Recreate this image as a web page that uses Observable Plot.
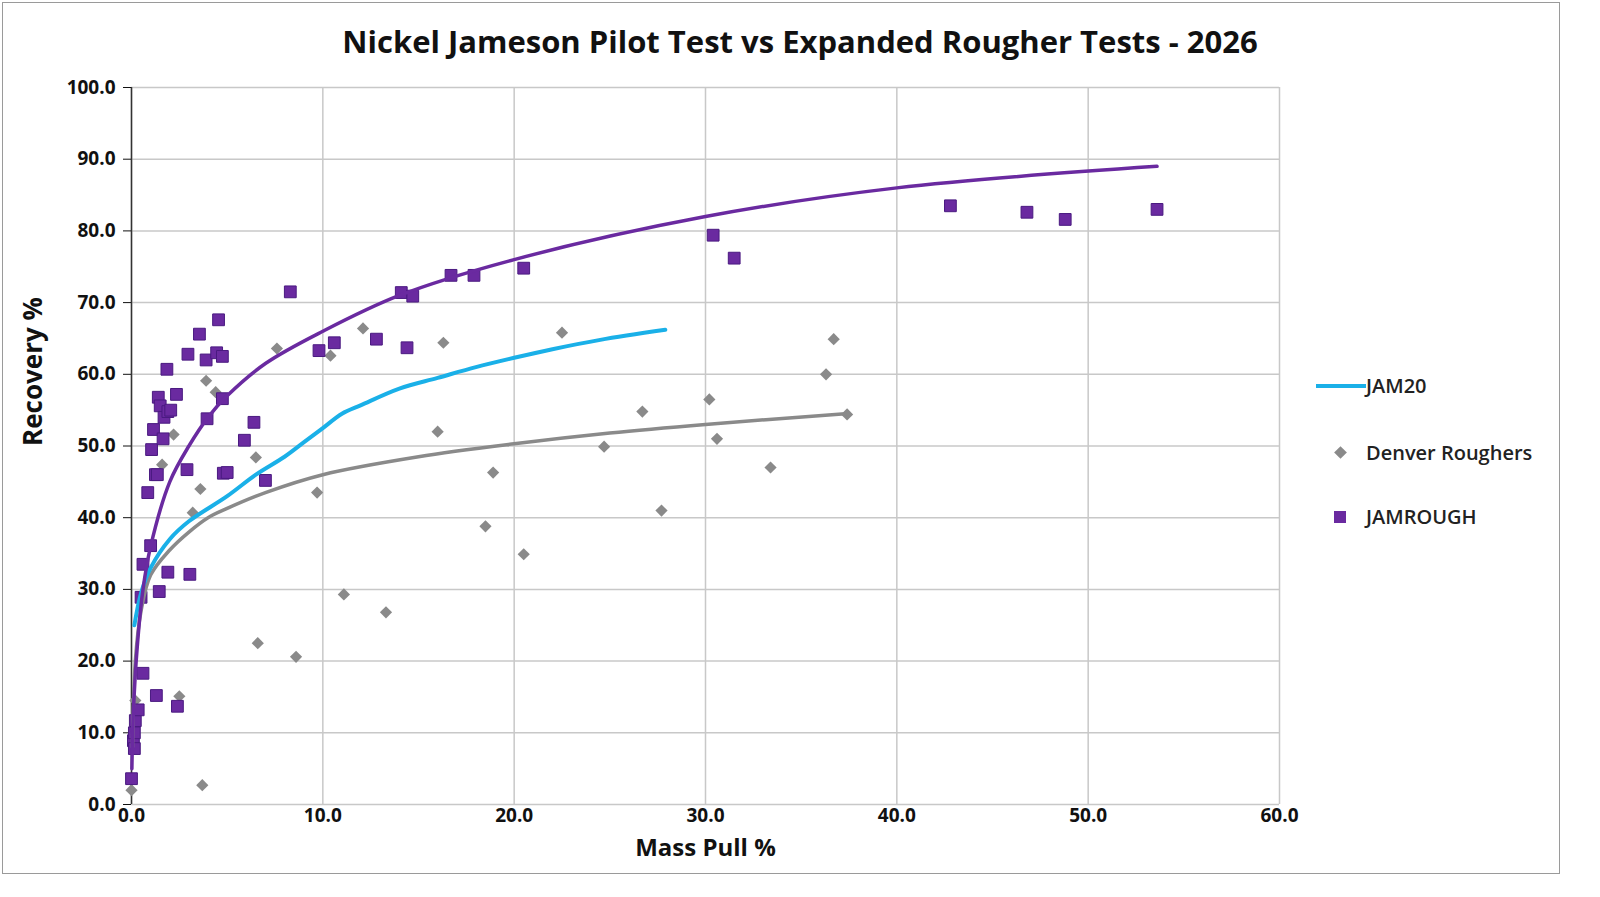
<!DOCTYPE html>
<html><head><meta charset="utf-8">
<script src="https://cdn.jsdelivr.net/npm/d3@7"></script>
<script src="https://cdn.jsdelivr.net/npm/@observablehq/plot@0.6"></script>
<style>
html,body{margin:0;padding:0;width:1600px;height:897px;overflow:hidden;background:#fff;font-family:"Open Sans",sans-serif;}
#wrap{position:relative;width:1600px;height:897px;overflow:hidden;}
#frame{position:absolute;left:2px;top:2px;width:1556px;height:870px;border:1px solid #9a9a9a;}
#title{position:absolute;top:20px;left:0;width:1600px;text-align:center;font-size:31px;font-weight:700;color:#111;}
#chart{position:absolute;left:0;top:0;line-height:0;}
.leg{position:absolute;left:1316px;font-size:20px;font-weight:600;color:#222;display:flex;align-items:center;}
</style></head>
<body><div id="wrap"><div id="frame"></div><div id="chart"></div>
<div id="title">Nickel Jameson Pilot Test vs Expanded Rougher Tests - 2026</div>
<div class="leg" style="top:372px"><svg width="50" height="20"><line x1="0" y1="10" x2="50" y2="10" stroke="#1ab0e8" stroke-width="4"/></svg>JAM20</div>
<div class="leg" style="top:439px"><svg width="50" height="20"><rect x="20" y="5" width="9" height="9" fill="#8a8a8a" transform="rotate(45 24.5 9.5)"/></svg>Denver Roughers</div>
<div class="leg" style="top:503px"><svg width="50" height="20"><rect x="18" y="4" width="12" height="12" fill="#6a2aa0"/></svg>JAMROUGH</div>
</div>
<script>
const jamRoughX=[0,0.1,0.15,0.2,0.15,0.35,0.5,0.6,0.6,0.85,1.0,1.05,1.15,1.25,1.3,1.35,1.4,1.45,1.5,1.65,1.7,1.85,1.9,1.9,2.05,2.35,2.4,2.9,2.95,3.05,3.55,3.9,3.95,4.45,4.55,4.75,4.75,4.8,5.0,5.9,6.4,7.0,8.3,9.8,10.6,12.8,14.1,14.4,14.7,16.7,17.9,20.5,30.4,31.5,42.8,46.8,48.8,53.6];
const jamRoughY=[3.6,8.9,10,11.7,7.8,13.2,28.9,18.3,33.5,43.5,36.1,49.5,52.3,46,15.2,46,56.8,29.7,55.6,51,54,60.7,54.8,32.4,55,57.2,13.7,46.7,62.8,32.1,65.6,62,53.8,63,67.6,62.5,56.6,46.2,46.3,50.8,53.3,45.2,71.5,63.3,64.4,64.9,71.4,63.7,70.9,73.8,73.8,74.8,79.4,76.2,83.5,82.6,81.6,83];
const denverX=[0,0.2,2.5,3.7,1.6,2.2,3.2,3.6,3.9,4.4,6.5,6.6,7.6,8.6,9.7,10.4,11.1,12.1,13.3,16.0,16.3,18.5,18.9,20.5,22.5,24.7,26.7,27.7,30.2,30.6,33.4,36.3,36.7,37.4];
const denverY=[2,14.5,15.1,2.7,47.4,51.6,40.7,44,59.1,57.5,48.4,22.5,63.6,20.6,43.5,62.6,29.3,66.4,26.8,52,64.4,38.8,46.3,34.9,65.8,49.9,54.8,41,56.5,51,47,60,64.9,54.4];
const jam20X=[0.15,0.5,1,2,3,5,6.5,8,9,10,11,12,14,16,18,20,22,24.5,27.9];
const jam20Y=[25,29.5,33,37,39.5,43,46,48.5,50.5,52.5,54.5,55.7,58,59.5,61,62.3,63.5,64.8,66.2];
const roughTrendX=[0.02,0.1,0.3,0.6,1,2,3,4,5,7,10,14,20,30,40,53.6];
const roughTrendY=[5,13,22,30,36,45,50,54,57,61.5,66,71,76,82,86,89];
const denverTrendX=[0.05,0.2,0.5,1,2,3,4,5,7,10,15,20,25,30,37.3];
const denverTrendY=[8,20,27,32,35.5,38,40,41.3,43.5,46,48.5,50.3,51.8,53,54.5];
const xTicks=[0,10,20,30,40,50,60], yTicks=d3.range(0,101,10);
const pts=(X,Y)=>X.map((x,i)=>({x,y:Y[i]}));
const plot=Plot.plot({
  width:1600,height:897,marginLeft:131,marginRight:321,marginTop:87,marginBottom:93,
  style:{fontFamily:"Open Sans, sans-serif",fontSize:"19px",fontWeight:700,color:"#111",background:"transparent"},
  x:{domain:[0,60],ticks:xTicks,tickFormat:d3.format(".1f"),label:null},
  y:{domain:[0,100],ticks:yTicks,tickFormat:d3.format(".1f"),label:null},
  marks:[
    Plot.gridX(xTicks,{stroke:"#c8c8c8",strokeOpacity:1,strokeWidth:1.5}),
    Plot.gridY(yTicks,{stroke:"#c8c8c8",strokeOpacity:1,strokeWidth:1.5}),
    Plot.ruleX([0],{stroke:"#333",strokeWidth:1.5}),
    Plot.axisY({ticks:yTicks,tickFormat:d3.format(".1f"),tickSize:8,tickPadding:8,label:null}),
    Plot.axisX({ticks:xTicks,tickFormat:d3.format(".1f"),tickSize:0,tickPadding:4,label:null}),
    Plot.dot(pts(denverX,denverY),{x:"x",y:"y",symbol:"diamond2",r:5.5,fill:"#8a8a8a",stroke:"none"}),
    Plot.dot(pts(jamRoughX,jamRoughY),{x:"x",y:"y",symbol:"square2",r:7.5,fill:"#6a2aa0",stroke:"#4a1a80",strokeWidth:1}),
    Plot.line(pts(denverTrendX,denverTrendY),{x:"x",y:"y",stroke:"#8a8a8a",strokeWidth:3.5,curve:"catmull-rom"}),
    Plot.line(pts(jam20X,jam20Y),{x:"x",y:"y",stroke:"#1ab0e8",strokeWidth:4,curve:"catmull-rom"}),
    Plot.line(pts(roughTrendX,roughTrendY),{x:"x",y:"y",stroke:"#6a2aa0",strokeWidth:3.5,curve:"catmull-rom"}),
    Plot.text(["Mass Pull %"],{frameAnchor:"bottom",dy:51,fontSize:24,fontWeight:700}),
    Plot.text(["Recovery %"],{frameAnchor:"left",dx:-98,rotate:-90,fontSize:26,fontWeight:700})
  ]
});
document.getElementById("chart").appendChild(plot);
</script></body></html>
